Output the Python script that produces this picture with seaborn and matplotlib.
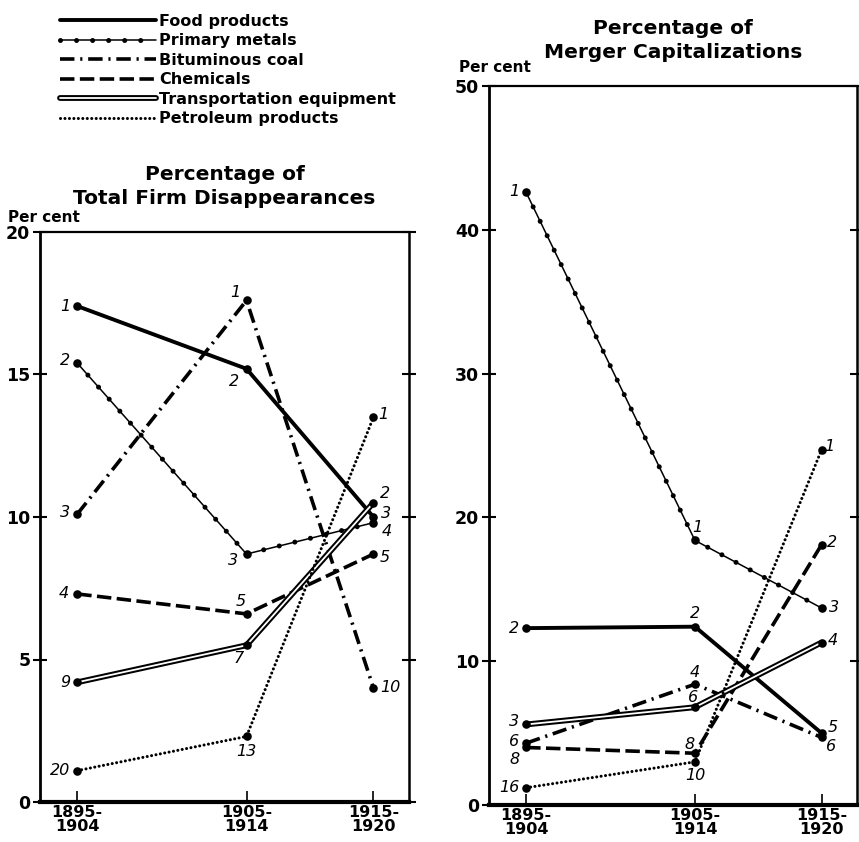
"""Industry shares of firm disappearances and merger capitalizations, 1895-1920."""

import matplotlib
matplotlib.use("Agg")
import matplotlib.pyplot as plt
import matplotlib.patheffects as pe
from matplotlib.lines import Line2D
import seaborn as sns

sns.set_style("white")
plt.rcParams["font.family"] = ["DejaVu Sans"]
plt.rcParams.update({"text.color": "black", "axes.labelcolor": "black",
                     "xtick.color": "black", "ytick.color": "black"})

# --- data ---------------------------------------------------------------
PERIODS = ["1895-\n1904", "1905-\n1914", "1915-\n1920"]
PERIOD_X = [0, 1, 1.75]  # last period is shorter (6 years)

INDUSTRIES = ["Food products", "Primary metals", "Bituminous coal",
              "Chemicals", "Transportation equipment", "Petroleum products"]

firm_food = [17.4, 15.2, 10.0]
firm_metals = [15.4, 8.7, 9.8]
firm_coal = [10.1, 17.6, 4.0]
firm_chem = [7.3, 6.6, 8.7]
firm_transport = [4.2, 5.5, 10.5]
firm_petrol = [1.1, 2.3, 13.5]

cap_food = [12.3, 12.4, 5.0]
cap_metals = [42.6, 18.4, 13.7]
cap_coal = [4.3, 8.4, 4.7]
cap_chem = [4.0, 3.6, 18.1]
cap_transport = [5.6, 6.8, 11.3]
cap_petrol = [1.2, 3.0, 24.7]

# rank of the industry in each period
firm_rank_food = [1, 2, 3]
firm_rank_metals = [2, 3, 4]
firm_rank_coal = [3, 1, 10]
firm_rank_chem = [4, 5, 5]
firm_rank_transport = [9, 7, 2]
firm_rank_petrol = [20, 13, 1]

cap_rank_food = [2, 2, 5]
cap_rank_metals = [1, 1, 3]
cap_rank_coal = [6, 4, 6]
cap_rank_chem = [8, 8, 2]
cap_rank_transport = [3, 6, 4]
cap_rank_petrol = [16, 10, 1]

# --- label placement (pixel offsets from the point) ---------------------
FIRM_OFFSETS = {
    "Food products": [(-12, 0, "center"), (-13, -13, "center"), (13, 4, "center")],
    "Primary metals": [(-12, 3, "center"), (-13, -6, "center"), (13, -9, "center")],
    "Bituminous coal": [(-12, 2, "center"), (-11, 8, "center"), (7, 0, "left")],
    "Chemicals": [(-13, 0, "center"), (-6, 12, "center"), (11, -3, "center")],
    "Transportation equipment": [(-12, 0, "center"), (-8, -13, "center"), (12, 9, "center")],
    "Petroleum products": [(-7, 0, "right"), (0, -15, "center"), (10, 3, "center")],
}
CAP_OFFSETS = {
    "Food products": [(-12, 0, "center"), (0, 13, "center"), (11, 6, "center")],
    "Primary metals": [(-12, 1, "center"), (2, 13, "center"), (12, 0, "center")],
    "Bituminous coal": [(-12, 2, "center"), (0, 12, "center"), (9, -9, "center")],
    "Chemicals": [(-12, -12, "center"), (-5, 9, "center"), (10, 2, "center")],
    "Transportation equipment": [(-12, 3, "center"), (-2, 10, "center"), (11, 2, "center")],
    "Petroleum products": [(-7, 0, "right"), (0, -14, "center"), (8, 3, "center")],
}

DOUBLE = [pe.withStroke(linewidth=4.2, foreground="black")]
STYLES = {
    "Food products": dict(lw=2.8, linestyle="-"),
    "Primary metals": dict(lw=1.1, linestyle="-"),
    "Bituminous coal": dict(lw=2.6, linestyle=(0, (4, 1.6, 0.6, 1.6))),
    "Chemicals": dict(lw=2.6, linestyle=(0, (4, 1.5))),
    "Transportation equipment": dict(lw=1.3, linestyle="-", color="white",
                                     path_effects=DOUBLE),
    "Petroleum products": dict(lw=2.2, linestyle=(0, (0.01, 1.45)),
                               dash_capstyle="round"),
}
METAL_DOTS = dict(lw=3.6, linestyle=(0, (0.01, 3.2)), dash_capstyle="round",
                  color="black")


def draw_panel(ax, series, ranks, offsets):
    for name, vals, rnk in zip(INDUSTRIES, series, ranks):
        kw = dict(color="black")
        kw.update(STYLES[name])
        sns.lineplot(x=PERIOD_X, y=vals, ax=ax, **kw)
        if name == "Primary metals":
            sns.lineplot(x=PERIOD_X, y=vals, ax=ax, **METAL_DOTS)
        sns.scatterplot(x=PERIOD_X, y=vals, ax=ax, color="black", s=38,
                        edgecolor="black", linewidth=0, zorder=4)
        for i in range(len(vals)):
            dx, dy, ha = offsets[name][i]
            ax.annotate(str(rnk[i]), (PERIOD_X[i], vals[i]), xytext=(dx, dy),
                        textcoords="offset pixels", ha=ha, va="center",
                        fontsize=11.5, fontstyle="italic")


def style_axes(ax, ymax, step):
    ax.set_xlim(-0.22, 1.96)
    ax.set_ylim(0, ymax)
    ax.set_xticks(PERIOD_X)
    ax.set_xticklabels(PERIODS, fontsize=11.5, fontweight="bold", linespacing=0.9)
    ax.set_yticks(range(0, ymax + 1, step))
    ax.set_yticklabels([str(v) for v in range(0, ymax + 1, step)],
                       fontsize=12.5, fontweight="bold")
    ax.set_xlabel("")
    ax.set_ylabel("")
    ax.tick_params(axis="y", right=True, direction="in", length=9, width=1.5)
    ax.tick_params(axis="y", left=True, direction="inout", length=10, width=1.5, pad=2)
    ax.tick_params(axis="x", bottom=True, direction="in", length=8, width=1.2, pad=2)
    for side, w in (("left", 2.0), ("bottom", 3.0), ("top", 1.6), ("right", 1.8)):
        ax.spines[side].set_linewidth(w)
        ax.spines[side].set_color("black")
    ax.grid(False)


fig = plt.figure(figsize=(8.59, 8.42), dpi=100)
ax_firm = fig.add_axes([40 / 859, 40 / 842, 369 / 859, 570 / 842])
ax_cap = fig.add_axes([489 / 859, 37 / 842, 368 / 859, 719 / 842])

draw_panel(ax_firm,
           [firm_food, firm_metals, firm_coal, firm_chem, firm_transport, firm_petrol],
           [firm_rank_food, firm_rank_metals, firm_rank_coal, firm_rank_chem,
            firm_rank_transport, firm_rank_petrol],
           FIRM_OFFSETS)
draw_panel(ax_cap,
           [cap_food, cap_metals, cap_coal, cap_chem, cap_transport, cap_petrol],
           [cap_rank_food, cap_rank_metals, cap_rank_coal, cap_rank_chem,
            cap_rank_transport, cap_rank_petrol],
           CAP_OFFSETS)

style_axes(ax_firm, 20, 5)
style_axes(ax_cap, 50, 10)

ax_firm.set_title("Percentage of\nTotal Firm Disappearances", fontsize=14.5,
                  fontweight="bold", pad=20, linespacing=1.35)
ax_cap.set_title("Percentage of\nMerger Capitalizations", fontsize=14.5,
                 fontweight="bold", pad=20, linespacing=1.35)
fig.text(8 / 859, 1 - 218 / 842, "Per cent", fontsize=11, fontweight="bold",
         va="center", ha="left")
fig.text(459 / 859, 1 - 68 / 842, "Per cent", fontsize=11, fontweight="bold",
         va="center", ha="left")

# legend built from proxy lines (no point markers)
handles = []
for name in INDUSTRIES:
    kw = dict(color="black")
    kw.update(STYLES[name])
    line = Line2D([], [], **kw)
    if name == "Primary metals":
        handles.append((line, Line2D([], [], **METAL_DOTS)))
    else:
        handles.append(line)
fig.legend(handles, INDUSTRIES, loc="upper left",
           bbox_to_anchor=(60 / 859, 1 - 14 / 842), frameon=False,
           borderpad=0, borderaxespad=0, handlelength=6.0, handletextpad=0.2,
           labelspacing=0.28, prop={"size": 11.5, "weight": "bold"})

fig.savefig("out.png", dpi=100)
